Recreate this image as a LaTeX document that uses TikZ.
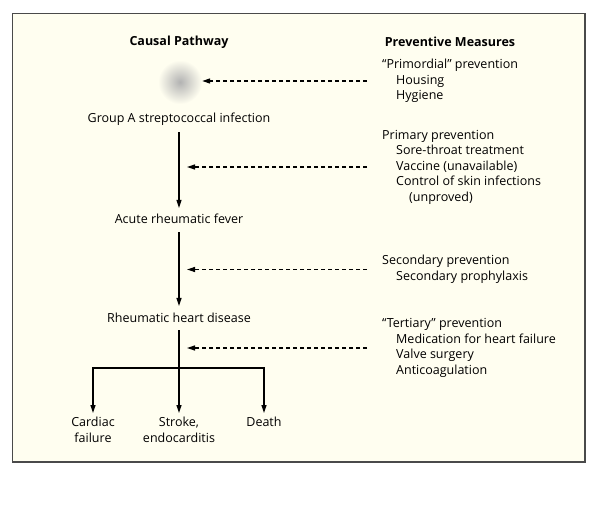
\documentclass[tikz,border=0pt]{standalone}
\usepackage{fontspec}
\setmainfont{Open Sans}
\usetikzlibrary{arrows.meta, positioning}
\definecolor{paper}{HTML}{FFFEF0}
\definecolor{framegray}{HTML}{4A4A4A}

\begin{document}
\begin{tikzpicture}[x=1pt, y=-1pt,
    label/.style={font=\fontsize{12.5}{15.5}\selectfont, inner sep=2pt},
    head/.style={font=\fontsize{12.5}{15.5}\selectfont\bfseries, inner sep=2pt},
    measure/.style={label, align=left, anchor=west, inner sep=0pt},
    arrow/.style={-{Triangle[length=8pt, width=5pt]}, line width=1.2pt},
    dasharrow/.style={arrow, dash pattern=on 4pt off 3pt, shorten <=15pt}
]
    \useasboundingbox (0,0) rectangle (613,505);
    \draw[framegray, fill=paper, line width=1.5pt] (12.7,13.3) rectangle (585,462);

    % headings
    \node[head] (causal) at (179,42) {Causal Pathway};
    \node[head] (measures) at (450,42) {Preventive Measures};

    % causal pathway
    \node[circle, minimum size=44pt, shade, inner color=black!30, outer color=paper] (blob) at (180,82) {};
    \node[label] (inf) at (179,119) {Group A streptococcal infection};
    \node[label] (arf) at (179,219) {Acute rheumatic fever};
    \node[label] (rhd) at (179,318) {Rheumatic heart disease};
    \coordinate (fork) at (179,368);
    \node[label, align=center, anchor=north] (cardiac) at (93,415) {Cardiac\\failure};
    \node[label, align=center, anchor=north] (stroke) at (179,415) {Stroke,\\endocarditis};
    \node[label, align=center, anchor=north] (death) at (264,415) {Death};

    \draw[arrow, shorten <=5pt, shorten >=4pt] (inf) -- (arf);
    \draw[arrow, shorten <=6pt, shorten >=5pt] (arf) -- (rhd);
    \draw[line width=1.2pt, shorten <=5pt] (rhd) -- (fork);
    \draw[arrow, shorten >=2pt] (fork) -| (cardiac);
    \draw[arrow, shorten >=2pt] (fork) -- (stroke);
    \draw[arrow, shorten >=2pt] (fork) -| (death);

    % preventive measures
    \node[measure] (primordial) at (382,81)
        {“Primordial” prevention\\\hspace*{14pt}Housing\\\hspace*{14pt}Hygiene};
    \node[measure] (primary) at (382,167)
        {Primary prevention\\\hspace*{14pt}Sore-throat treatment\\\hspace*{14pt}Vaccine (unavailable)\\
         \hspace*{14pt}Control of skin infections\\\hspace*{27pt}(unproved)};
    \node[measure] (secondary) at (382,269.5)
        {Secondary prevention\\\hspace*{14pt}Secondary prophylaxis};
    \node[measure] (tertiary) at (382,348)
        {“Tertiary” prevention\\\hspace*{14pt}Medication for heart failure\\
         \hspace*{14pt}Valve surgery\\\hspace*{14pt}Anticoagulation};

    \draw[dasharrow] (primordial.west) -- (primordial.west -| blob.east);
    \draw[dasharrow, shorten >=8pt] (primary.west) -- (primary.west -| inf);
    \draw[dasharrow, shorten >=8pt] (secondary.west) -- (secondary.west -| arf);
    \draw[dasharrow, shorten >=8pt] (tertiary.west) -- (tertiary.west -| rhd);
\end{tikzpicture}
\end{document}
